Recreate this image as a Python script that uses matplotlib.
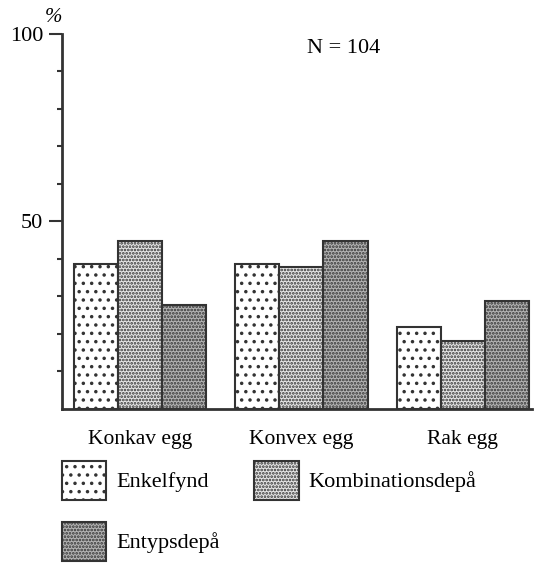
import numpy as np
import matplotlib.pyplot as plt

plt.rcParams['font.family'] = ['Liberation Serif', 'DejaVu Serif']
plt.rcParams['hatch.linewidth'] = 1.3

# data, percent
categories = ['Konkav egg', 'Konvex egg', 'Rak egg']
enkelfynd = [38.6, 38.6, 21.8]
kombination = [44.7, 37.8, 18.1]
entyps = [27.7, 44.7, 28.7]
series_names = ['Enkelfynd', 'Kombinationsdepå', 'Entypsdepå']

fig = plt.figure(figsize=(5.38, 5.68), dpi=100)
ax = fig.add_axes([0.1152, 0.280, 0.874, 0.661])

x = np.arange(len(categories))
w = 0.273
ec = '#333333'

b1 = ax.bar(x - w, enkelfynd, w, facecolor='white', edgecolor=ec, linewidth=1.5, hatch='..')
b2 = ax.bar(x, kombination, w, facecolor='#e6e6e6', edgecolor=ec, linewidth=1.5, hatch='.....')
b3 = ax.bar(x + w, entyps, w, facecolor='#b4b4b4', edgecolor=ec, linewidth=1.5, hatch='.....')

ax.set_xlim(-0.484, 2.43)
ax.set_ylim(0, 100)

for s in ['top', 'right']:
    ax.spines[s].set_visible(False)
for s in ['left', 'bottom']:
    ax.spines[s].set_linewidth(2)
    ax.spines[s].set_color(ec)

ax.set_yticks([50, 100])
ax.set_yticklabels(['50', '100'], fontsize=16)
ax.set_yticks([10, 20, 30, 40, 60, 70, 80, 90], minor=True)
ax.tick_params(axis='y', which='major', length=9.5, width=1.5, color=ec, pad=4)
ax.tick_params(axis='y', which='minor', length=3.6, width=1.5, color=ec)

ax.set_xticks(x)
ax.set_xticklabels(categories, fontsize=15.5)
ax.tick_params(axis='x', length=0, pad=15)

ax.text(-0.036, 1.017, '%', transform=ax.transAxes, fontsize=15, style='italic', ha='left', va='bottom')
ax.text(0.6, 0.96, 'N = 104', transform=ax.transAxes, fontsize=16, ha='center', va='center')

leg = ax.legend([b1, b3, b2], [series_names[0], series_names[2], series_names[1]],
                ncol=2, loc='upper left', bbox_to_anchor=(0.115, 0.188),
                bbox_transform=fig.transFigure, frameon=False, fontsize=16,
                handlelength=2.0, handleheight=2.3, handletextpad=0.45,
                labelspacing=1.0, columnspacing=1.55, borderpad=0, borderaxespad=0)

fig.savefig('out.png', dpi=100)
